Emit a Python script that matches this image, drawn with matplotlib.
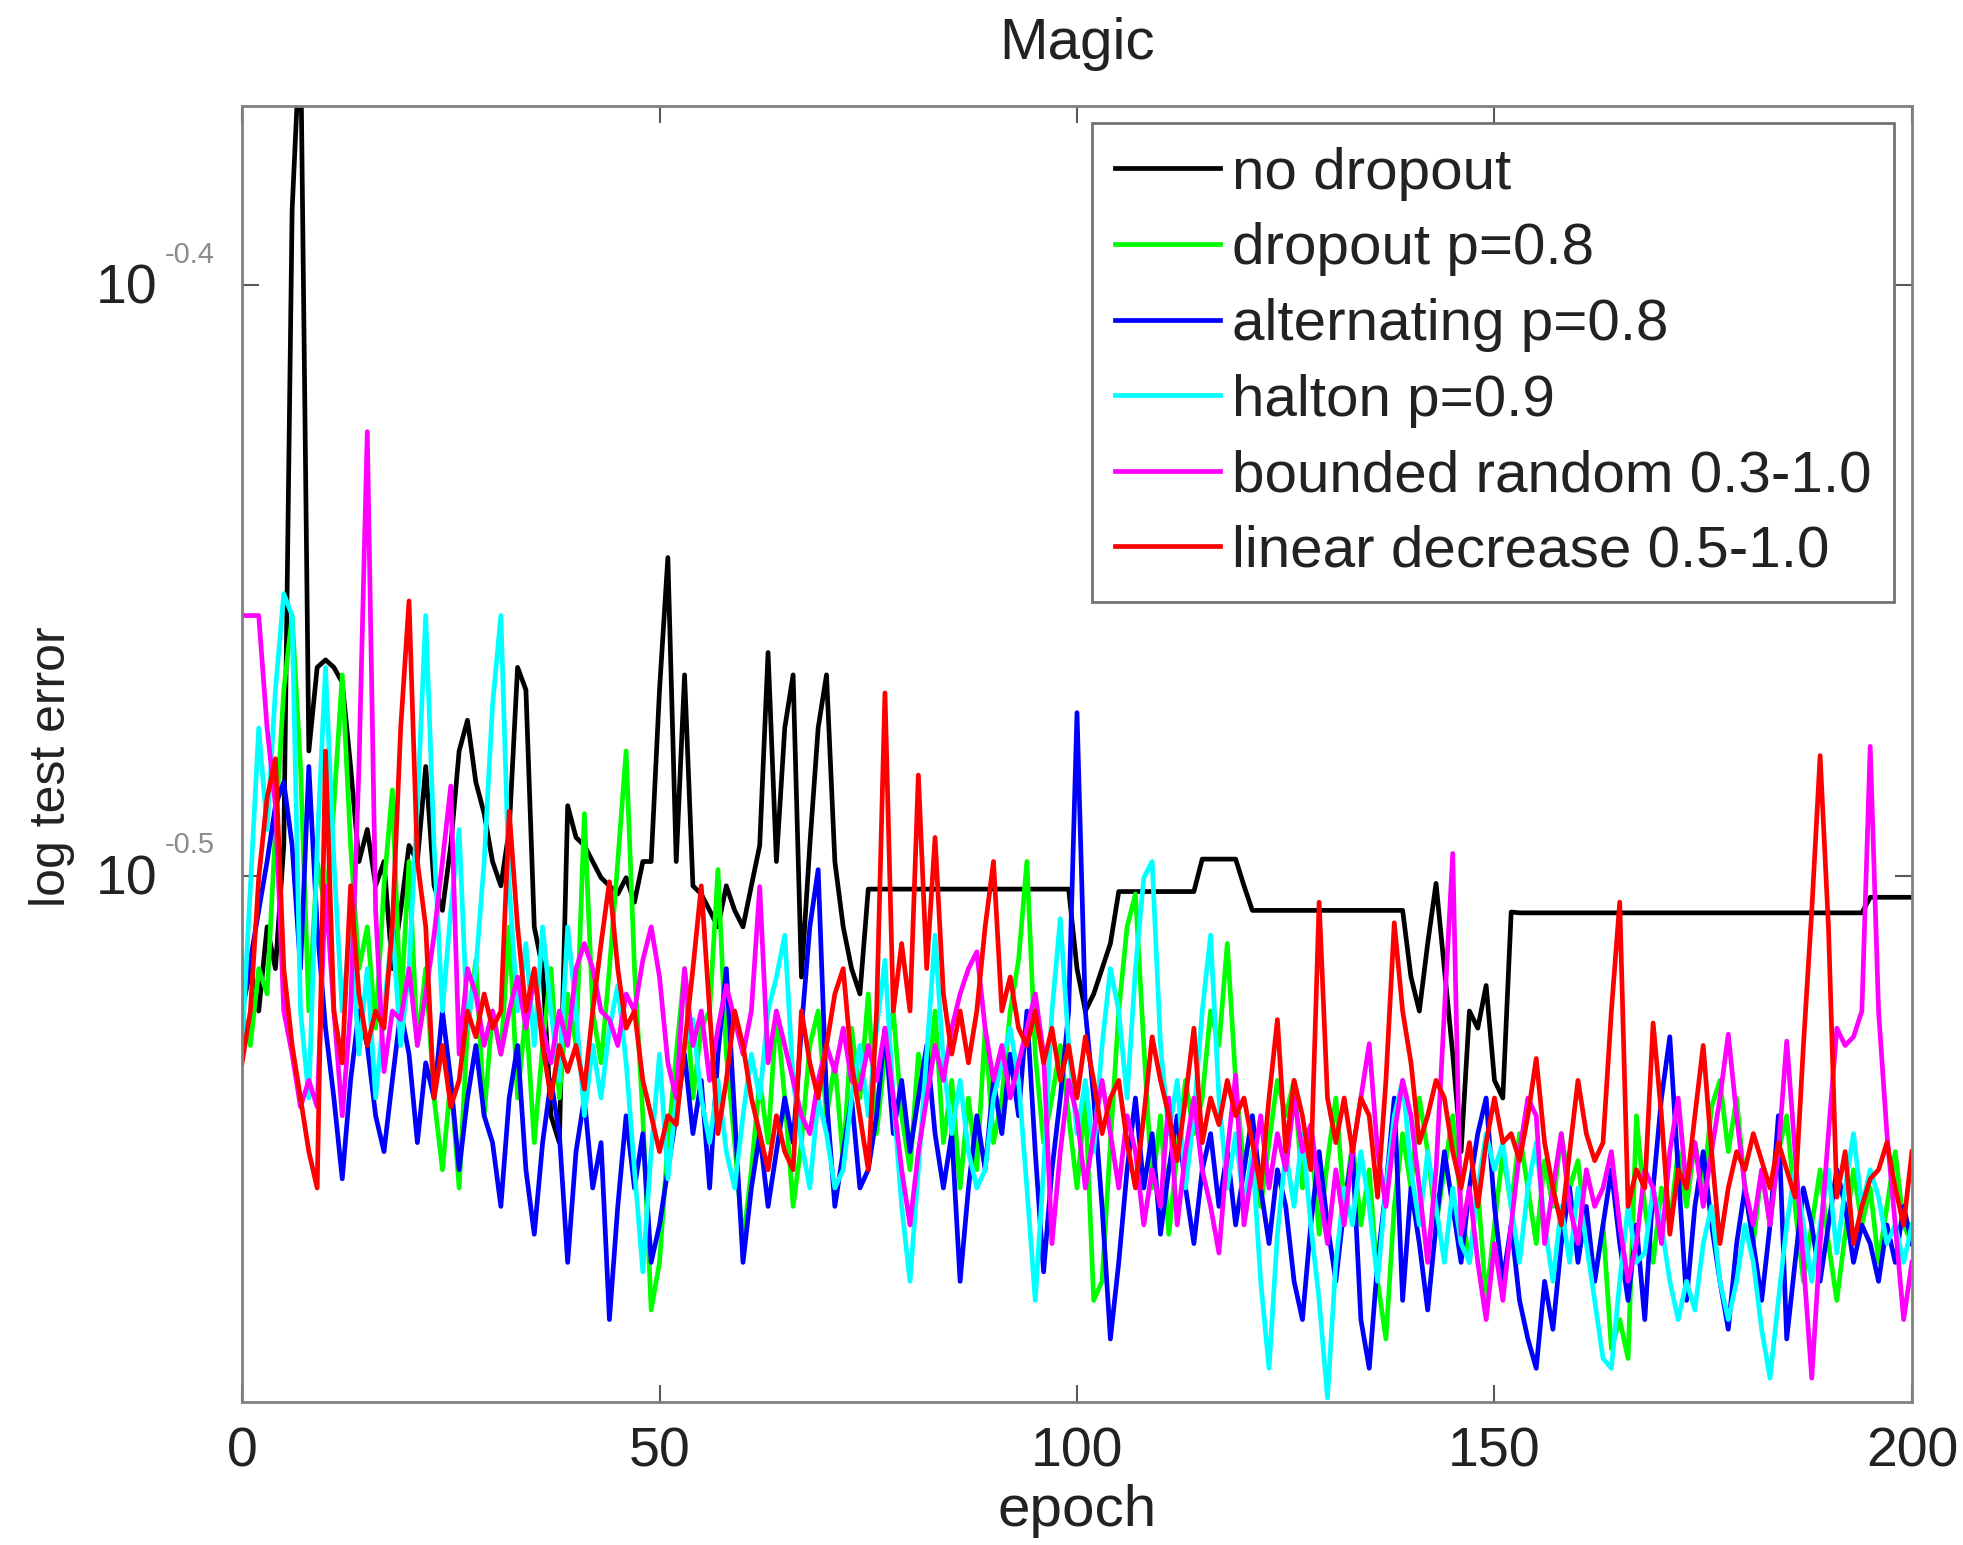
import matplotlib
matplotlib.use('Agg')
import matplotlib.pyplot as plt
from matplotlib.ticker import NullLocator
import numpy as np

# test error per epoch
epochs = np.arange(0, 201)

no_dropout = [
    0.300, 0.305, 0.300, 0.310, 0.305, 0.320, 0.410, 0.440, 0.332, 0.343,
    0.344, 0.343, 0.341, 0.330, 0.318, 0.322, 0.315, 0.318, 0.305, 0.312,
    0.320, 0.318, 0.330, 0.315, 0.312, 0.320, 0.332, 0.336, 0.328, 0.324,
    0.318, 0.315, 0.322, 0.343, 0.340, 0.310, 0.305, 0.288, 0.285, 0.325,
    0.321, 0.320, 0.318, 0.316, 0.315, 0.314, 0.316, 0.313, 0.318, 0.318,
    0.340, 0.358, 0.318, 0.342, 0.315, 0.314, 0.312, 0.310, 0.315, 0.312,
    0.310, 0.315, 0.320, 0.345, 0.318, 0.335, 0.342, 0.304, 0.320, 0.335,
    0.342, 0.318, 0.310, 0.305, 0.302, 0.3146, 0.3146, 0.3146, 0.3146, 0.3146,
    0.3146, 0.3146, 0.3146, 0.3146, 0.3146, 0.3146, 0.3146, 0.3146, 0.3146, 0.3146,
    0.3146, 0.3146, 0.3146, 0.3146, 0.3146, 0.3146, 0.3146, 0.3146, 0.3146, 0.3146,
    0.305, 0.300, 0.302, 0.305, 0.308, 0.3143, 0.3143, 0.3143, 0.3143, 0.3143,
    0.3143, 0.3143, 0.3143, 0.3143, 0.3143, 0.3183, 0.3183, 0.3183, 0.3183, 0.3183,
    0.3150, 0.3120, 0.3120, 0.3120, 0.3120, 0.3120, 0.3120, 0.3120, 0.3120, 0.3120,
    0.3120, 0.3120, 0.3120, 0.3120, 0.3120, 0.3120, 0.3120, 0.3120, 0.3120, 0.3120,
    0.304, 0.300, 0.308, 0.3153, 0.305, 0.295, 0.284, 0.300, 0.298, 0.303,
    0.292, 0.290, 0.3118, 0.3117, 0.3117, 0.3117, 0.3117, 0.3117, 0.3117, 0.3117,
    0.3117, 0.3117, 0.3117, 0.3117, 0.3117, 0.3117, 0.3117, 0.3117, 0.3117, 0.3117,
    0.3117, 0.3117, 0.3117, 0.3117, 0.3117, 0.3117, 0.3117, 0.3117, 0.3117, 0.3117,
    0.3117, 0.3117, 0.3117, 0.3117, 0.3117, 0.3117, 0.3117, 0.3117, 0.3117, 0.3117,
    0.3117, 0.3117, 0.3117, 0.3117, 0.3117, 0.3136, 0.3136, 0.3136, 0.3136, 0.3136,
    0.3136,
]

dropout_08 = [
    0.300, 0.296, 0.305, 0.302, 0.322, 0.340, 0.350, 0.330, 0.300, 0.318,
    0.312, 0.325, 0.342, 0.320, 0.305, 0.310, 0.298, 0.315, 0.327, 0.300,
    0.318, 0.296, 0.305, 0.290, 0.282, 0.292, 0.280, 0.298, 0.306, 0.288,
    0.300, 0.295, 0.310, 0.290, 0.300, 0.285, 0.296, 0.305, 0.290, 0.302,
    0.296, 0.324, 0.300, 0.294, 0.305, 0.318, 0.332, 0.305, 0.288, 0.267,
    0.272, 0.285, 0.295, 0.305, 0.290, 0.298, 0.300, 0.317, 0.295, 0.285,
    0.274, 0.282, 0.292, 0.285, 0.300, 0.290, 0.278, 0.285, 0.296, 0.300,
    0.288, 0.294, 0.283, 0.298, 0.290, 0.302, 0.286, 0.295, 0.300, 0.288,
    0.282, 0.295, 0.290, 0.300, 0.285, 0.292, 0.280, 0.290, 0.282, 0.298,
    0.285, 0.290, 0.300, 0.306, 0.318, 0.295, 0.285, 0.290, 0.296, 0.288,
    0.280, 0.290, 0.268, 0.270, 0.285, 0.300, 0.310, 0.314, 0.296, 0.280,
    0.288, 0.275, 0.284, 0.292, 0.286, 0.290, 0.300, 0.296, 0.308, 0.292,
    0.282, 0.288, 0.278, 0.285, 0.292, 0.288, 0.292, 0.280, 0.286, 0.275,
    0.283, 0.290, 0.278, 0.285, 0.276, 0.282, 0.270, 0.264, 0.278, 0.286,
    0.280, 0.290, 0.284, 0.276, 0.282, 0.288, 0.278, 0.272, 0.280, 0.268,
    0.276, 0.284, 0.278, 0.286, 0.280, 0.274, 0.283, 0.278, 0.286, 0.280,
    0.283, 0.275, 0.270, 0.276, 0.263, 0.266, 0.262, 0.288, 0.278, 0.272,
    0.280, 0.276, 0.284, 0.278, 0.285, 0.280, 0.289, 0.292, 0.284, 0.290,
    0.280, 0.274, 0.282, 0.276, 0.284, 0.288, 0.278, 0.270, 0.276, 0.282,
    0.274, 0.268, 0.275, 0.282, 0.276, 0.280, 0.272, 0.278, 0.284, 0.276,
    0.274,
]

alternating_08 = [
    0.300, 0.306, 0.312, 0.318, 0.325, 0.328, 0.320, 0.305, 0.330, 0.310,
    0.298, 0.290, 0.281, 0.292, 0.300, 0.296, 0.288, 0.284, 0.292, 0.300,
    0.295, 0.285, 0.294, 0.290, 0.300, 0.292, 0.282, 0.290, 0.296, 0.288,
    0.285, 0.278, 0.290, 0.296, 0.282, 0.275, 0.285, 0.292, 0.286, 0.272,
    0.284, 0.290, 0.280, 0.285, 0.266, 0.278, 0.288, 0.280, 0.286, 0.272,
    0.276, 0.282, 0.288, 0.295, 0.286, 0.292, 0.280, 0.295, 0.305, 0.288,
    0.272, 0.280, 0.286, 0.278, 0.284, 0.290, 0.285, 0.298, 0.310, 0.317,
    0.290, 0.278, 0.284, 0.290, 0.280, 0.282, 0.288, 0.298, 0.286, 0.292,
    0.284, 0.290, 0.296, 0.286, 0.280, 0.286, 0.270, 0.280, 0.288, 0.282,
    0.292, 0.286, 0.295, 0.288, 0.300, 0.284, 0.271, 0.282, 0.290, 0.300,
    0.337, 0.300, 0.290, 0.278, 0.264, 0.272, 0.282, 0.290, 0.280, 0.286,
    0.275, 0.282, 0.288, 0.280, 0.274, 0.282, 0.286, 0.278, 0.284, 0.276,
    0.282, 0.288, 0.280, 0.274, 0.282, 0.278, 0.270, 0.266, 0.276, 0.284,
    0.276, 0.270, 0.278, 0.284, 0.266, 0.261, 0.272, 0.280, 0.290, 0.268,
    0.280, 0.274, 0.267, 0.276, 0.284, 0.278, 0.272, 0.280, 0.286, 0.290,
    0.278, 0.270, 0.276, 0.268, 0.264, 0.261, 0.270, 0.265, 0.274, 0.280,
    0.272, 0.278, 0.270, 0.276, 0.282, 0.274, 0.268, 0.276, 0.266, 0.280,
    0.290, 0.297, 0.282, 0.268, 0.278, 0.284, 0.276, 0.270, 0.265, 0.274,
    0.280, 0.274, 0.268, 0.276, 0.288, 0.264, 0.272, 0.280, 0.276, 0.270,
    0.276, 0.282, 0.278, 0.272, 0.276, 0.274, 0.270, 0.276, 0.272, 0.278,
    0.274,
]

halton_09 = [
    0.296, 0.315, 0.335, 0.322, 0.340, 0.353, 0.350, 0.300, 0.290, 0.320,
    0.343, 0.318, 0.300, 0.310, 0.295, 0.305, 0.290, 0.300, 0.310, 0.296,
    0.305, 0.325, 0.350, 0.320, 0.300, 0.312, 0.322, 0.298, 0.305, 0.318,
    0.338, 0.350, 0.315, 0.300, 0.308, 0.296, 0.310, 0.300, 0.292, 0.310,
    0.300, 0.288, 0.296, 0.290, 0.298, 0.303, 0.294, 0.282, 0.271, 0.284,
    0.295, 0.281, 0.290, 0.296, 0.299, 0.290, 0.285, 0.292, 0.284, 0.280,
    0.288, 0.295, 0.290, 0.300, 0.304, 0.309, 0.292, 0.285, 0.280, 0.290,
    0.286, 0.280, 0.282, 0.290, 0.296, 0.288, 0.298, 0.306, 0.290, 0.278,
    0.270, 0.282, 0.295, 0.309, 0.294, 0.286, 0.292, 0.284, 0.280, 0.282,
    0.290, 0.294, 0.298, 0.292, 0.280, 0.268, 0.282, 0.300, 0.311, 0.296,
    0.286, 0.292, 0.284, 0.296, 0.305, 0.300, 0.290, 0.305, 0.316, 0.318,
    0.296, 0.286, 0.292, 0.280, 0.288, 0.300, 0.309, 0.290, 0.280, 0.286,
    0.278, 0.284, 0.270, 0.261, 0.275, 0.284, 0.278, 0.286, 0.276, 0.268,
    0.258, 0.272, 0.280, 0.276, 0.284, 0.278, 0.270, 0.280, 0.288, 0.292,
    0.282, 0.276, 0.284, 0.278, 0.272, 0.280, 0.274, 0.272, 0.280, 0.286,
    0.282, 0.285, 0.278, 0.272, 0.280, 0.285, 0.276, 0.270, 0.278, 0.272,
    0.280, 0.274, 0.268, 0.262, 0.261, 0.270, 0.278, 0.272, 0.273, 0.280,
    0.276, 0.270, 0.266, 0.270, 0.267, 0.274, 0.278, 0.270, 0.266, 0.270,
    0.276, 0.272, 0.265, 0.260, 0.268, 0.276, 0.282, 0.276, 0.270, 0.276,
    0.282, 0.273, 0.280, 0.286, 0.278, 0.282, 0.279, 0.274, 0.276, 0.272,
    0.276,
]

bounded_random = [
    0.350, 0.350, 0.350, 0.335, 0.325, 0.300, 0.295, 0.289, 0.292, 0.289,
    0.315, 0.300, 0.288, 0.300, 0.330, 0.376, 0.312, 0.293, 0.300, 0.299,
    0.305, 0.296, 0.302, 0.309, 0.318, 0.3275, 0.295, 0.305, 0.302, 0.296,
    0.300, 0.295, 0.300, 0.304, 0.298, 0.304, 0.298, 0.294, 0.300, 0.296,
    0.305, 0.308, 0.305, 0.300, 0.299, 0.296, 0.302, 0.300, 0.306, 0.310,
    0.304, 0.294, 0.290, 0.305, 0.296, 0.300, 0.292, 0.298, 0.303, 0.299,
    0.295, 0.300, 0.3149, 0.294, 0.300, 0.296, 0.292, 0.288, 0.286, 0.292,
    0.296, 0.293, 0.298, 0.292, 0.291, 0.296, 0.292, 0.298, 0.290, 0.282,
    0.276, 0.284, 0.290, 0.296, 0.292, 0.298, 0.302, 0.305, 0.307, 0.298,
    0.292, 0.296, 0.290, 0.294, 0.298, 0.302, 0.295, 0.274, 0.284, 0.292,
    0.288, 0.280, 0.286, 0.292, 0.286, 0.280, 0.288, 0.284, 0.276, 0.282,
    0.278, 0.290, 0.276, 0.284, 0.290, 0.282, 0.278, 0.273, 0.284, 0.2926,
    0.276, 0.282, 0.288, 0.280, 0.286, 0.282, 0.290, 0.284, 0.287, 0.280,
    0.274, 0.282, 0.276, 0.284, 0.290, 0.2962, 0.284, 0.278, 0.286, 0.292,
    0.288, 0.280, 0.272, 0.282, 0.300, 0.319, 0.275, 0.280, 0.272, 0.266,
    0.274, 0.268, 0.276, 0.284, 0.290, 0.288, 0.274, 0.280, 0.286, 0.278,
    0.274, 0.282, 0.278, 0.280, 0.284, 0.276, 0.270, 0.274, 0.282, 0.280,
    0.274, 0.284, 0.290, 0.280, 0.285, 0.278, 0.284, 0.290, 0.2973, 0.288,
    0.280, 0.276, 0.282, 0.276, 0.284, 0.2965, 0.284, 0.272, 0.260, 0.274,
    0.286, 0.298, 0.296, 0.297, 0.300, 0.3326, 0.300, 0.286, 0.276, 0.266,
    0.272,
]

linear_decrease = [
    0.294, 0.300, 0.316, 0.326, 0.331, 0.305, 0.296, 0.290, 0.284, 0.280,
    0.332, 0.300, 0.294, 0.315, 0.302, 0.296, 0.300, 0.298, 0.310, 0.335,
    0.352, 0.318, 0.310, 0.290, 0.296, 0.289, 0.292, 0.300, 0.297, 0.302,
    0.298, 0.300, 0.3243, 0.310, 0.300, 0.305, 0.296, 0.290, 0.296, 0.293,
    0.296, 0.291, 0.300, 0.308, 0.3155, 0.305, 0.298, 0.300, 0.292, 0.288,
    0.284, 0.288, 0.287, 0.296, 0.305, 0.315, 0.300, 0.286, 0.292, 0.300,
    0.296, 0.290, 0.286, 0.282, 0.288, 0.284, 0.282, 0.300, 0.294, 0.290,
    0.296, 0.302, 0.305, 0.294, 0.288, 0.282, 0.300, 0.3396, 0.300, 0.308,
    0.300, 0.3289, 0.305, 0.321, 0.302, 0.295, 0.300, 0.294, 0.300, 0.310,
    0.318, 0.300, 0.304, 0.298, 0.296, 0.300, 0.294, 0.298, 0.292, 0.296,
    0.290, 0.297, 0.292, 0.286, 0.290, 0.292, 0.285, 0.280, 0.288, 0.297,
    0.292, 0.288, 0.283, 0.290, 0.298, 0.285, 0.290, 0.287, 0.292, 0.288,
    0.290, 0.285, 0.280, 0.290, 0.299, 0.284, 0.292, 0.288, 0.282, 0.313,
    0.290, 0.285, 0.290, 0.284, 0.290, 0.288, 0.279, 0.292, 0.3105, 0.300,
    0.294, 0.285, 0.288, 0.292, 0.290, 0.284, 0.280, 0.285, 0.278, 0.285,
    0.290, 0.285, 0.286, 0.283, 0.288, 0.2945, 0.285, 0.280, 0.276, 0.284,
    0.292, 0.286, 0.283, 0.285, 0.300, 0.313, 0.278, 0.282, 0.280, 0.2986,
    0.288, 0.275, 0.282, 0.280, 0.288, 0.296, 0.284, 0.274, 0.280, 0.284,
    0.282, 0.286, 0.283, 0.280, 0.285, 0.282, 0.279, 0.296, 0.312, 0.3314,
    0.310, 0.279, 0.284, 0.274, 0.278, 0.281, 0.282, 0.285, 0.280, 0.276,
    0.284,
]

series = [no_dropout, dropout_08, alternating_08, halton_09, bounded_random, linear_decrease]
labels = ['no dropout', 'dropout p=0.8', 'alternating p=0.8', 'halton p=0.9',
          'bounded random 0.3-1.0', 'linear decrease 0.5-1.0']
colors = ['k', (0, 1, 0), (0, 0, 1), (0, 1, 1), (1, 0, 1), (1, 0, 0)]

ytick_vals = [10 ** -0.5, 10 ** -0.4]
ytick_exps = ['-0.5', '-0.4']

plt.rcParams['font.family'] = ['Liberation Sans', 'DejaVu Sans']

fig = plt.figure(figsize=(19.63, 15.45), dpi=100)
ax = fig.add_axes([0.1233, 0.0926, 0.8507, 0.8388])

for s, col, lab in zip(series, colors, labels):
    ax.plot(epochs, s, color=col, lw=3.4, label=lab)

ax.set_yscale('log')
ax.set_xlim(0, 200)
ax.set_ylim(0.2576, 0.4269)
ax.set_yticks(ytick_vals)
ax.set_yticklabels(['', ''])
ax.yaxis.set_minor_locator(NullLocator())
ax.set_xticks([0, 50, 100, 150, 200])
ax.tick_params(direction='in', top=True, right=True, length=12, width=1.5,
               labelsize=40, pad=18, colors='0.35', labelcolor='#222222')
for sp in ax.spines.values():
    sp.set_color('0.5')
    sp.set_linewidth(2)

# matlab style 10^x labels: big base, small light exponent
for v, e in zip(ytick_vals, ytick_exps):
    ax.annotate('10', xy=(0, v), xycoords=('axes fraction', 'data'),
                xytext=(-61, -3), textcoords='offset points',
                ha='right', va='center', fontsize=40, color='#222222')
    ax.annotate(e, xy=(0, v), xycoords=('axes fraction', 'data'),
                xytext=(-56, 22), textcoords='offset points',
                ha='left', va='center', fontsize=21, color='0.55')

ax.set_title('Magic', fontsize=42, color='#222222', pad=34)
ax.set_xlabel('epoch', fontsize=42, color='#222222', labelpad=4)
ax.set_ylabel('log test error', fontsize=36, color='#222222')
ax.yaxis.set_label_coords(-0.10, 0.49)

leg = ax.legend(loc='upper right', fontsize=42, handlelength=1.8, handletextpad=0.2,
                labelspacing=0.37, borderpad=0.4, borderaxespad=0.3,
                fancybox=False, framealpha=1)
leg.get_frame().set_edgecolor('0.45')
leg.get_frame().set_linewidth(2)
for t in leg.get_texts():
    t.set_color('#222222')

fig.savefig('out.png', dpi=100)
